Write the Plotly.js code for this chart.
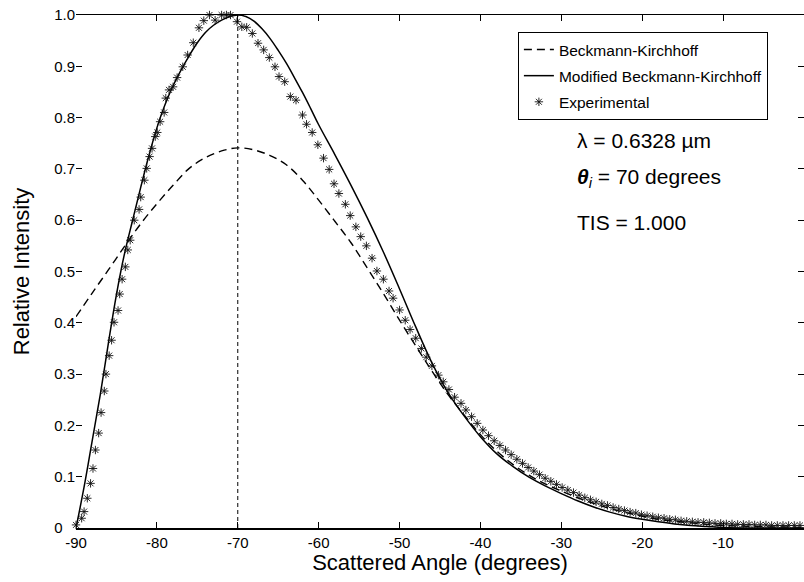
<!DOCTYPE html>
<html>
<head>
<meta charset="utf-8">
<script src="https://cdn.plot.ly/plotly-3.0.1.min.js"></script>
<style>html,body{margin:0;padding:0;background:#fff;}#chart{width:804px;height:582px;}</style>
</head>
<body>
<div id="chart"></div>
<script>
// Beckmann-Kirchhoff (dashed)
const bkAngle = [-90, -88, -86, -84, -82, -80, -78, -76, -74, -72, -70, -68, -66, -64, -62, -60, -58, -56, -54, -52, -50, -48, -46, -44, -42, -40, -38, -36, -34, -32, -30, -28, -26, -24, -22, -20, -18, -16, -14, -12, -10, -8, -6, -4, -2, 0];
const bkIntensity = [0.412, 0.458, 0.503, 0.549, 0.593, 0.632, 0.668, 0.701, 0.722, 0.735, 0.741, 0.737, 0.726, 0.708, 0.678, 0.639, 0.598, 0.556, 0.507, 0.457, 0.405, 0.355, 0.306, 0.260, 0.220, 0.182, 0.150, 0.124, 0.103, 0.086, 0.072, 0.059, 0.048, 0.038, 0.030, 0.023, 0.017, 0.013, 0.010, 0.007, 0.005, 0.004, 0.003, 0.002, 0.002, 0.001];

// Modified Beckmann-Kirchhoff (solid)
const mbkAngle = [-90, -89, -88, -87, -86, -85, -84, -83, -82, -81, -80, -79, -78, -77, -76, -75, -74, -73, -72, -71, -70, -69, -68, -67, -66, -65, -64, -63, -62, -61, -60, -58, -56, -54, -52, -50, -48, -46, -44, -42, -40, -38, -36, -34, -32, -30, -28, -26, -24, -22, -20, -18, -16, -14, -12, -10, -5, 0];
const mbkIntensity = [0, 0.08, 0.17, 0.26, 0.36, 0.455, 0.535, 0.6, 0.664, 0.725, 0.78, 0.825, 0.862, 0.893, 0.921, 0.946, 0.966, 0.98, 0.99, 0.997, 1.0, 0.997, 0.988, 0.973, 0.954, 0.931, 0.906, 0.878, 0.849, 0.818, 0.786, 0.728, 0.668, 0.605, 0.538, 0.466, 0.392, 0.322, 0.264, 0.218, 0.178, 0.145, 0.120, 0.099, 0.082, 0.067, 0.053, 0.041, 0.031, 0.023, 0.017, 0.012, 0.008, 0.005, 0.003, 0.001, 0, 0];

// Experimental (asterisks)
const expAngle = [-90.0, -89.3, -89.0, -88.6, -88.2, -87.9, -87.6, -87.2, -86.9, -86.5, -86.3, -85.9, -85.6, -85.3, -84.8, -84.6, -84.3, -83.9, -83.6, -83.3, -82.8, -82.2,
  -82.0, -81.55, -81.26, -80.9, -80.6, -80.2, -79.95, -79.6, -79.1, -78.9, -78.5, -78.0, -77.5, -76.8, -76.2, -75.5, -74.8, -74.2, -73.5, -72.8, -72.0, -71.4, -70.9, -70.1, -69.5, -68.9, -68.2, -67.5, -66.8, -66.1, -65.4, -64.9, -64.2, -63.5, -62.8, -62.0,
  -61.5, -60.8, -60.1, -59.4, -58.7, -58.1, -57.5, -56.7, -56.1, -55.4, -54.8, -54.1, -53.4, -52.8, -52.0, -51.3, -50.8, -50.0, -49.3, -48.7, -48.0, -47.3, -46.7, -46.0, -45.2, -44.6, -43.9, -43.2, -42.4, -41.8, -41.1, -40.4, -39.7,
  -39.0, -38.3, -37.6, -36.9, -36.2, -35.5, -34.8, -34.1, -33.4, -32.7, -32.0, -31.3, -30.6, -29.9, -29.2, -28.5, -27.8, -27.1, -26.4, -25.7, -25.0, -24.3, -23.6, -22.9, -22.2, -21.5, -20.8, -20.1, -19.4, -18.7, -18.0, -17.3, -16.6, -15.9, -15.2, -14.5, -13.8, -13.1, -12.4, -11.7, -11.0, -10.3, -9.6, -8.9, -8.2, -7.5, -6.8, -6.1, -5.4, -4.7, -4.0, -3.3, -2.6, -1.9, -1.2, -0.5];
const expIntensity = [0.006, 0.019, 0.032, 0.058, 0.087, 0.116, 0.152, 0.185, 0.225, 0.267, 0.300, 0.336, 0.366, 0.401, 0.424, 0.456, 0.485, 0.509, 0.542, 0.561, 0.600, 0.621,
  0.645, 0.678, 0.701, 0.724, 0.740, 0.763, 0.771, 0.792, 0.810, 0.838, 0.854, 0.860, 0.878, 0.899, 0.922, 0.946, 0.975, 0.989, 1.0, 0.990, 1.0, 1.0, 1.0, 0.987, 0.977, 0.976, 0.964, 0.945, 0.932, 0.917, 0.899, 0.880, 0.870, 0.841, 0.834, 0.805,
  0.787, 0.771, 0.747, 0.721, 0.699, 0.671, 0.652, 0.631, 0.609, 0.587, 0.568, 0.550, 0.526, 0.501, 0.485, 0.462, 0.448, 0.425, 0.405, 0.387, 0.370, 0.350, 0.333, 0.316, 0.298, 0.285, 0.270, 0.255, 0.243, 0.230, 0.217, 0.204, 0.191,
  0.180, 0.170, 0.161, 0.152, 0.143, 0.134, 0.126, 0.118, 0.111, 0.104, 0.097, 0.091, 0.085, 0.079, 0.074, 0.069, 0.064, 0.059, 0.055, 0.051, 0.047, 0.044, 0.040, 0.037, 0.034, 0.031, 0.029, 0.026, 0.024, 0.022, 0.020, 0.019, 0.017, 0.016, 0.014, 0.013, 0.012, 0.011, 0.011, 0.010, 0.009, 0.009, 0.008, 0.008, 0.007, 0.007, 0.007, 0.006, 0.006, 0.006, 0.005, 0.005, 0.005, 0.005, 0.005, 0.005];

const specularAngle = -70;

const xTickVals = [-90, -80, -70, -60, -50, -40, -30, -20, -10, 0];
const xTickText = ['-90', '-80', '-70', '-60', '-50', '-40', '-30', '-20', '-10', '0'];
const yTickVals = [0, 0.1, 0.2, 0.3, 0.4, 0.5, 0.6, 0.7, 0.8, 0.9, 1.0];
const yTickText = ['0\u00a0\u00a0\u00a0', '0.1', '0.2', '0.3', '0.4', '0.5', '0.6', '0.7', '0.8', '0.9', '1.0'];

const seriesNames = ['Beckmann-Kirchhoff', 'Modified Beckmann-Kirchhoff', 'Experimental'];

const traces = [
  {x: bkAngle, y: bkIntensity, name: seriesNames[0], legendgroup: 'a', mode: 'lines',
   line: {color: '#000', width: 1.4, dash: '8px,5px', shape: 'spline'}},
  {x: mbkAngle, y: mbkIntensity, name: seriesNames[1], legendgroup: 'b', mode: 'lines',
   line: {color: '#000', width: 1.5, shape: 'spline'}},
  {x: expAngle, y: expIntensity, name: seriesNames[2], legendgroup: 'c', mode: 'markers', cliponaxis: false,
   marker: {symbol: 'asterisk-open', size: 7, color: '#111', line: {color: '#111', width: 0.9}}}
];

const FONT = 'Liberation Sans, Arial, Helvetica, sans-serif';

const layout = {
  width: 804, height: 582,
  margin: {l: 76, r: 0, t: 15, b: 54},
  paper_bgcolor: '#fff', plot_bgcolor: '#fff',
  font: {family: FONT, color: '#000', size: 15},
  showlegend: true,
  legend: {x: 0.607, y: 0.967, xanchor: 'left', yanchor: 'top', bordercolor: '#000', borderwidth: 1,
           bgcolor: '#fff', font: {family: FONT, size: 15.5, color: '#000'}, traceorder: 'grouped', tracegroupgap: 3},
  xaxis: {range: [-90, 0], tickvals: xTickVals, ticktext: xTickText, ticks: 'inside', ticklen: 6, tickwidth: 1,
          tickcolor: '#000', showline: true, linecolor: '#000', linewidth: 1.5, mirror: 'ticks',
          showgrid: false, zeroline: false, tickfont: {size: 15},
          title: {text: 'Scattered Angle (degrees)', font: {size: 22}, standoff: 2}},
  yaxis: {range: [0, 1], tickvals: yTickVals, ticktext: yTickText, ticks: 'inside', ticklen: 6, tickwidth: 1,
          tickcolor: '#000', showline: false, mirror: 'ticks',
          showgrid: false, zeroline: false, tickfont: {size: 15},
          title: {text: 'Relative Intensity', font: {size: 22}, standoff: 18}},
  shapes: [
    {type: 'line', xref: 'x', yref: 'y', x0: specularAngle, x1: specularAngle, y0: 0, y1: 1,
     line: {color: '#000', width: 1, dash: '4px,3px'}}
  ],
  annotations: [
    {xref: 'paper', yref: 'paper', x: 0.686, y: 0.756, xanchor: 'left', yanchor: 'middle', showarrow: false,
     text: 'λ = 0.6328 µm', font: {size: 21}},
    {xref: 'paper', yref: 'paper', x: 0.686, y: 0.682, xanchor: 'left', yanchor: 'middle', showarrow: false,
     text: '<b><i>θ</i></b><sub><i>i</i></sub> = 70 degrees', font: {size: 21}},
    {xref: 'paper', yref: 'paper', x: 0.686, y: 0.596, xanchor: 'left', yanchor: 'middle', showarrow: false,
     text: 'TIS = 1.000', font: {size: 21}}
  ]
};

Plotly.newPlot('chart', traces, layout, {displayModeBar: false, staticPlot: true});
</script>
</body>
</html>
